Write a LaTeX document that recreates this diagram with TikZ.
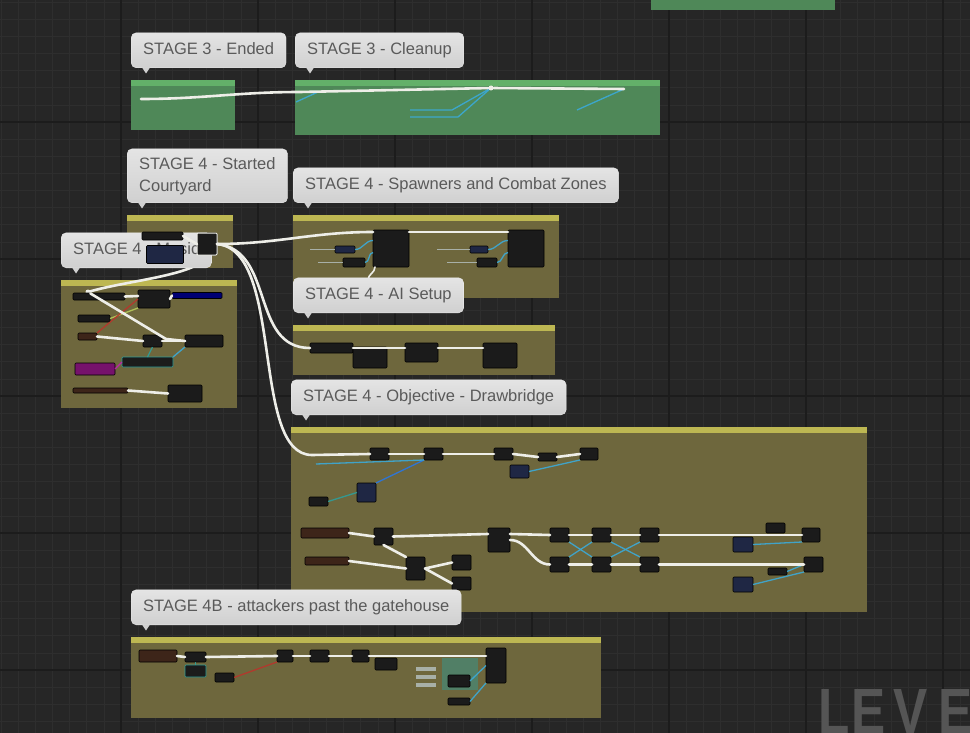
\documentclass[tikz,border=0pt]{standalone}
\usepackage{fontspec}
\setmainfont{Liberation Sans}
\usetikzlibrary{positioning}
\definecolor{graphbg}{HTML}{262626}
\definecolor{gridminor}{HTML}{2E2E2E}
\definecolor{gridmajor}{HTML}{1C1C1C}
\definecolor{greenbody}{HTML}{4F8858}
\definecolor{greenstrip}{HTML}{63B069}
\definecolor{olivebody}{HTML}{6E673D}
\definecolor{olivestrip}{HTML}{BDB752}
\definecolor{bubbletop}{HTML}{E4E4E4}
\definecolor{bubblebot}{HTML}{D0D0D0}
\definecolor{bubbletext}{HTML}{5A5A5A}
\definecolor{nodedark}{HTML}{1B1B1B}
\definecolor{nodebrown}{HTML}{3D2519}
\definecolor{nodeblue}{HTML}{1F2744}
\definecolor{execwhite}{HTML}{EEEEE8}
\definecolor{datacyan}{HTML}{3BAAD8}
\definecolor{datateal}{HTML}{2E9E9A}
\definecolor{datared}{HTML}{B8352C}
\definecolor{datamagenta}{HTML}{C41EB4}
\definecolor{datalime}{HTML}{B6C85A}
\definecolor{pinlight}{HTML}{A8B0A8}
\definecolor{watermark}{HTML}{555555}
\tikzset{
  sz/.style 2 args={minimum width=#1, minimum height=#2},
  minor grid/.style={draw=gridminor, line width=0.6pt},
  major grid/.style={draw=gridmajor, line width=1.2pt},
  comment box/.style={anchor=north west, inner sep=0pt, outer sep=0pt},
  green comment/.style={comment box, fill=greenbody, path picture={\fill[greenstrip] (path picture bounding box.north west) rectangle ([yshift=-6pt]path picture bounding box.north east);}},
  olive comment/.style={comment box, fill=olivebody, path picture={\fill[olivestrip] (path picture bounding box.north west) rectangle ([yshift=-6pt]path picture bounding box.north east);}},
  bubble base/.style={rounded corners=5pt, top color=bubbletop, bottom color=bubblebot, draw=white!85!gray, text=bubbletext, font=\fontsize{16.5}{22}\selectfont, inner xsep=12pt, inner ysep=0pt, align=left},
  bubble/.style={bubble base, minimum height=35pt, text height=12pt, text depth=3.5pt},
  bp node/.style={fill=nodedark, draw=black, line width=0.6pt, inner sep=0pt, outer sep=0pt, rounded corners=1pt},
  brown node/.style={bp node, fill=nodebrown},
  blue node/.style={bp node, fill=nodeblue},
  pin box/.style={fill=pinlight, inner sep=0pt, outer sep=0pt, sz={20}{4}},
  reroute/.style={circle, fill=execwhite, inner sep=0pt, minimum size=5pt},
  exec wire/.style={draw=execwhite, line width=2.6pt, line cap=round},
  data wire/.style={draw=datacyan, line width=1.3pt, opacity=.9},
  pin line/.style={draw=pinlight, line width=0.8pt},
}
\newcommand{\bubbletip}[1]{\fill[bubblebot] ([xshift=11pt,yshift=0.5pt]#1.south west) -- ++(8,0) -- ++(-4,6) -- cycle;}

\begin{document}
\begin{tikzpicture}[x=1pt,y=-1pt]
\clip (0,0) rectangle (970,733);
\fill[graphbg] (0,0) rectangle (970,733);
% graph grid
\foreach \gx in {1.125,18.25,...,970} \draw[minor grid] (\gx,0) -- (\gx,733);
\foreach \gy in {2.125,19.25,...,733} \draw[minor grid] (0,\gy) -- (970,\gy);
\foreach \gx in {121,258,...,970} \draw[major grid] (\gx,0) -- (\gx,733);
\foreach \gy in {122,259,...,733} \draw[major grid] (0,\gy) -- (970,\gy);

% comment boxes
\node[comment box, fill=greenbody, sz={184}{11}] (topbox) at (651,-1) {};
\node[green comment, sz={104}{50}] (endbox) at (131,80) {};
\node[green comment, sz={365}{55}] (cleanbox) at (295,80) {};
\node[olive comment, sz={106}{53}] (courtbox) at (127,215) {};
\node[olive comment, sz={266}{83}] (spawnbox) at (293,215) {};
\node[olive comment, sz={176}{128}] (musicbox) at (61,280) {};
\node[olive comment, sz={262}{50}] (aibox) at (293,325) {};
\node[olive comment, sz={576}{185}] (bridgebox) at (291,427) {};
\node[olive comment, sz={470}{81}] (gatebox) at (131,637) {};

% stage 3
\coordinate (endout) at (141,99);
\coordinate (cleanin) at (300,92);
\node[reroute] (clre) at (491,88) {};
\coordinate (cleanend) at (624,89);
\coordinate (clb1) at (296,102);
\coordinate (clb2) at (318,92);
\coordinate (clb3) at (410,110);
\coordinate (clb4) at (452,110);
\coordinate (clb5) at (410,117);
\coordinate (clb6) at (458,117);
\coordinate (clb7) at (577,110);
\draw[data wire] (clb1) -- (clb2);
\draw[data wire] (clb3) -- (clb4) -- (clre);
\draw[data wire] (clb5) -- (clb6) -- (clre);
\draw[data wire] (clb7) -- (cleanend);
\draw[exec wire] (endout) to[out=0,in=180] (cleanin) -- (clre) -- (cleanend);

% spawners and combat zones
\node[bp node, sz={36}{37}] (spA) at (391,248.5) {};
\node[bp node, sz={36}{37}] (spB) at (526,248.5) {};
\node[blue node, sz={20}{7}] (sp1) at (345,249.5) {};
\node[bp node, sz={22}{9}] (sp2) at (354,262.5) {};
\node[blue node, sz={18}{7}] (sp3) at (479,249.5) {};
\node[bp node, sz={20}{9}] (sp4) at (487,262.5) {};
\node[bp node, fill=red!45!black, sz={26}{8}] (spred) at (355,284) {};
\coordinate (spp1) at (310,249.5);
\coordinate (spp2) at (318,262.5);
\coordinate (spp3) at (437,249.5);
\coordinate (spp4) at (447,262.5);
\draw[pin line] (spp1) -- (sp1.west);
\draw[pin line] (spp2) -- (sp2.west);
\draw[pin line] (spp3) -- (sp3.west);
\draw[pin line] (spp4) -- (sp4.west);
\draw[data wire] (sp1.east) to[out=0,in=180] ([yshift=8pt]spA.west);
\draw[data wire] (sp2.east) to[out=0,in=180] ([yshift=-4pt]spA.west);
\draw[data wire] (sp3.east) to[out=0,in=180] ([yshift=8pt]spB.west);
\draw[data wire] (sp4.east) to[out=0,in=180] ([yshift=-4pt]spB.west);
\draw[exec wire, line width=1.6pt] ([xshift=2pt]spA.south west) to[out=-90,in=90] (spred.north east);
\draw[exec wire] ([yshift=-2pt]spA.north east) -- ([yshift=-2pt]spB.north west);

% ai setup
\node[bp node, sz={43}{10}] (a1) at (331.5,348) {};
\node[bp node, sz={34}{21}] (a2) at (370,357.5) {};
\node[bp node, sz={33}{19}] (a3) at (421.5,352.5) {};
\node[bp node, sz={34}{25}] (a4) at (500,355.5) {};
\draw[exec wire] (a1.east) -- ([yshift=4.5pt]a3.west);
\draw[exec wire] ([yshift=4.5pt]a3.east) -- ([yshift=7.5pt]a4.west);

% music
\node[reroute] (mus0) at (88,292) {};
\coordinate (mus1) at (166,339);
\node[bp node, sz={52}{7}] (m1) at (99,296.5) {};
\node[bp node, sz={32}{18}] (m3) at (154,299) {};
\node[bp node, fill=blue!45!black, sz={50}{6}] (m4) at (197,295.5) {};
\node[bp node, sz={32}{7}] (m5) at (94,318.5) {};
\node[brown node, sz={19}{7}] (m6) at (87.5,336.5) {};
\node[bp node, sz={19}{12}] (m7) at (152.5,341) {};
\node[bp node, sz={38}{12}] (m8) at (204,341) {};
\node[bp node, fill=datamagenta!60!black, sz={40}{12}] (m9) at (95,369) {};
\node[bp node, draw=datateal, sz={51}{10}] (m10) at (147.5,362) {};
\node[brown node, sz={55}{5}] (m11) at (100.5,390.5) {};
\node[bp node, sz={34}{17}] (m12) at (185,393.5) {};
\draw[data wire, draw=datalime] (m5.east) -- (m3.south west);
\draw[data wire, draw=datared] (m6.north east) -- (m3.west);
\draw[data wire, draw=datamagenta] (m9.east) -- (m10.west);
\draw[data wire, draw=datateal] (m7.south) -- (m10.north);
\draw[data wire] (m10.north east) -- (m8.south west);
\draw[exec wire] (m1.east) -- ([yshift=3pt]m3.west);
\draw[exec wire] (m3.east) -- (m4.west);
\draw[exec wire] (m6.east) -- (m7.west);
\draw[exec wire] (m7.east) -- (m8.west);
\draw[exec wire] (mus0) -- (mus1) -- (m8.west);
\draw[exec wire] (m11.east) -- (m12.west);

% objective drawbridge
\coordinate (dbin) at (312,455);
\coordinate (dbl1) at (316,464);
\node[bp node, sz={19}{12}] (d1) at (379.5,454) {};
\node[bp node, sz={19}{12}] (d2) at (433.5,454) {};
\node[bp node, sz={19}{12}] (d3) at (503.5,454) {};
\node[bp node, sz={19}{8}] (d4) at (547.5,457) {};
\node[bp node, sz={18}{12}] (d5) at (589,454) {};
\node[blue node, sz={19}{13}] (d6) at (519.5,471.5) {};
\node[blue node, sz={19}{19}] (d7) at (366.5,492.5) {};
\node[bp node, sz={19}{9}] (d8) at (318.5,501.5) {};
\node[brown node, sz={48}{10}] (r1) at (325,533) {};
\node[bp node, sz={19}{17}] (r2) at (383.5,536.5) {};
\node[bp node, sz={22}{24}] (r3) at (499,540) {};
\node[bp node, sz={19}{14}] (r4) at (559.5,535) {};
\node[bp node, sz={19}{14}] (r5) at (601.5,535) {};
\node[bp node, sz={19}{14}] (r6) at (649.5,535) {};
\node[bp node, sz={19}{10}] (r7) at (775.5,528) {};
\node[bp node, sz={18}{14}] (r8) at (811,535) {};
\node[blue node, sz={20}{15}] (r9) at (743,544.5) {};
\node[brown node, sz={44}{8}] (s1) at (327,561) {};
\node[bp node, sz={19}{23}] (s2) at (415.5,568.5) {};
\node[bp node, sz={19}{15}] (s3) at (461.5,562.5) {};
\node[bp node, sz={19}{13}] (s4) at (461.5,583.5) {};
\node[bp node, sz={19}{15}] (s5) at (559.5,564.5) {};
\node[bp node, sz={19}{15}] (s6) at (601.5,564.5) {};
\node[bp node, sz={19}{15}] (s7) at (649.5,564.5) {};
\node[bp node, sz={19}{15}] (s8) at (813.5,564.5) {};
\node[bp node, sz={19}{7}] (s9) at (777.5,571.5) {};
\node[blue node, sz={20}{15}] (s10) at (743,584.5) {};
\draw[data wire, draw=datateal] (d8.east) -- (d7.west);
\draw[data wire, draw=datacyan!70!blue] (d7.north east) -- (d2.south west);
\draw[data wire] (dbl1) -- (d2.south west);
\draw[data wire] (d6.east) -- (d5.south west);
\draw[data wire] (s5.north east) -- (r5.south west);
\draw[data wire] (r4.south east) -- (s6.north west);
\draw[data wire] (s6.north east) -- (r6.south west);
\draw[data wire] (r5.south east) -- (s7.north west);
\draw[data wire] (r9.east) -- (r8.south west);
\draw[data wire] (s10.east) -- (s8.south west);
\draw[data wire] (s9.east) -- (s8.west);
\draw[exec wire] (d1.east) -- (d2.west);
\draw[exec wire] (d2.east) -- (d3.west);
\draw[exec wire] (d3.east) -- (d4.west);
\draw[exec wire] (d4.east) -- (d5.west);
\draw[exec wire] (r1.east) -- (r2.west);
\draw[exec wire] (r2.east) -- ([yshift=6pt]r3.west);
\draw[exec wire] ([yshift=6pt]r3.east) -- (r4.west);
\draw[exec wire] (r4.east) -- (r5.west);
\draw[exec wire] (r5.east) -- (r6.west);
\draw[exec wire] (r6.east) -- (r8.west);
\draw[exec wire] (r2.south) -- (s2.north west);
\draw[exec wire] (s1.east) -- (s2.west);
\draw[exec wire] (s2.east) -- (s3.west);
\draw[exec wire] (s2.east) -- (s4.west);
\draw[exec wire] (r3.east) to[out=0,in=180] (s5.west);
\draw[exec wire] (s5.east) -- (s6.west);
\draw[exec wire] (s6.east) -- (s7.west);
\draw[exec wire] (s7.east) -- (s8.west);

% attackers past the gatehouse
\node[brown node, sz={38}{12}] (g1) at (158,656) {};
\node[bp node, sz={21}{10}] (g2) at (195.5,657) {};
\node[bp node, draw=datateal, sz={21}{12}] (g3) at (195.5,671) {};
\node[bp node, sz={19}{9}] (g4) at (224.5,677.5) {};
\node[bp node, sz={16}{12}] (g5) at (285,656) {};
\node[bp node, sz={19}{12}] (g6) at (319.5,656) {};
\node[bp node, sz={17}{12}] (g7) at (360.5,656) {};
\node[bp node, sz={22}{12}] (g8) at (386,664) {};
\node[comment box, anchor=center, fill=datateal, opacity=.45, sz={36}{32}] (g12) at (460,674) {};
\node[bp node, sz={20}{35}] (g9) at (496,665.5) {};
\node[bp node, sz={22}{12}] (g10) at (459,681) {};
\node[bp node, sz={22}{7}] (g11) at (459,701.5) {};
\foreach \py [count=\k] in {669,677,685} \node[pin box] (pin\k) at (426,\py) {};
\draw[data wire, draw=datateal] (g2.south) -- (g3.north);
\draw[data wire, draw=datared] (g4.east) -- (g5.south west);
\draw[data wire] (g10.east) -- (g9.west);
\draw[data wire] (g11.east) -- (g9.south west);
\draw[exec wire] (g1.east) -- (g2.west);
\draw[exec wire] (g2.east) -- (g5.west);
\draw[exec wire] (g5.east) -- (g6.west);
\draw[exec wire] (g6.east) -- (g7.west);
\draw[exec wire] (g7.east) -- ([yshift=9.5pt]g9.west);

% courtyard sequence
\node[bp node, sz={20}{22}] (seq) at (207,244) {};
\draw[exec wire] (seq.south) .. controls (200,275) and (130,280) .. (mus0);

% comment bubbles
\node[bubble, above right=12pt and 0pt of endbox.north west] (endlbl) {STAGE 3 - Ended};
\bubbletip{endlbl}
\node[bubble, above right=12pt and 0pt of cleanbox.north west] (cleanlbl) {STAGE 3 - Cleanup};
\bubbletip{cleanlbl}
\node[bubble base, minimum height=54pt, above right=12pt and 0pt of courtbox.north west] (courtlbl) {STAGE 4 - Started\\Courtyard};
\bubbletip{courtlbl}
\node[bubble, above right=12pt and 0pt of spawnbox.north west] (spawnlbl) {STAGE 4 - Spawners and Combat Zones};
\bubbletip{spawnlbl}
\node[bubble, above right=12pt and 0pt of musicbox.north west] (musiclbl) {STAGE 4 - Music};
\bubbletip{musiclbl}
\node[bubble, above right=12pt and 0pt of aibox.north west] (ailbl) {STAGE 4 - AI Setup};
\bubbletip{ailbl}
\node[bubble, above right=12pt and 0pt of bridgebox.north west] (bridgelbl) {STAGE 4 - Objective - Drawbridge};
\bubbletip{bridgelbl}
\node[bubble, above right=12pt and 0pt of gatebox.north west] (gatelbl) {STAGE 4B - attackers past the gatehouse};
\bubbletip{gatelbl}

% nodes lying over the music comment
\node[bp node, sz={41}{8}] (cy1) at (162.5,236) {};
\node[blue node, sz={37}{18}] (cy2) at (165,254.5) {};
\node[bp node, draw=execwhite, line width=1pt, sz={20}{22}] (seq) at (207,244) {};
\draw[exec wire] (cy1.east) -- (seq.west);
\draw[exec wire] (seq.east) to[out=0,in=180] ([yshift=-2pt]spA.north west);
\draw[exec wire] (seq.east) .. controls (275,250) and (250,348) .. (a1.west);
\draw[exec wire] (seq.east) .. controls (285,250) and (250,455) .. (dbin) -- (d1.west);

% watermark
\node[font=\fontsize{64}{64}\selectfont\bfseries, text=watermark, xscale=.8, anchor=base west, inner sep=0pt] (lvl) at (818,733) {L\kern2pt E\kern10pt V\kern14pt E};
\end{tikzpicture}
\end{document}
